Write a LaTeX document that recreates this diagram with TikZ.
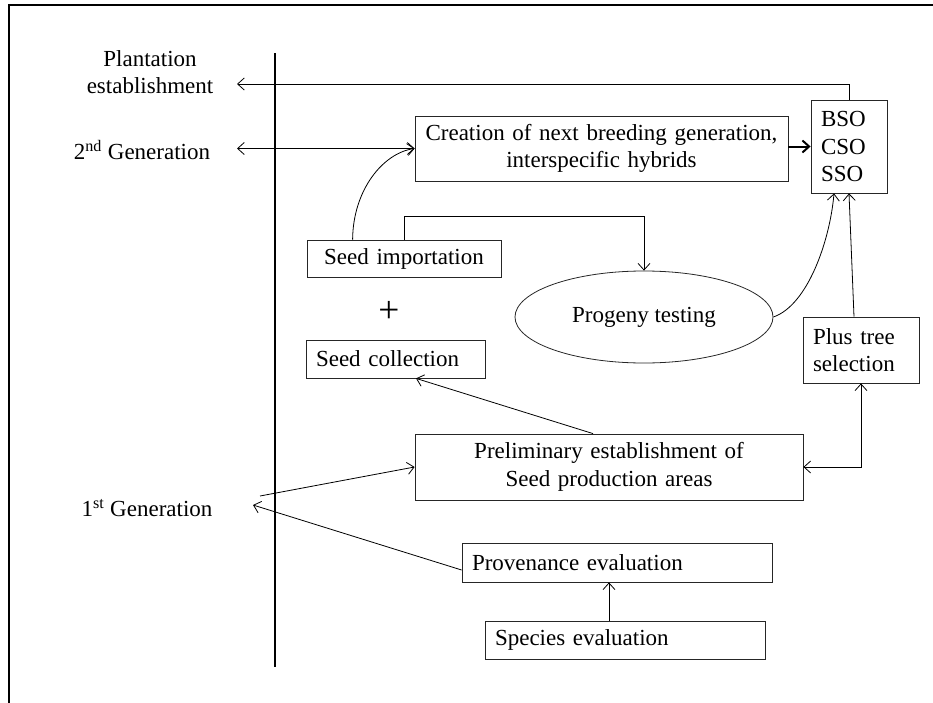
\documentclass[tikz,border=0pt]{standalone}
\usepackage{fontspec}
\setmainfont{Liberation Serif}
\usetikzlibrary{arrows.meta,calc,shapes.geometric}
\begin{document}
\begin{tikzpicture}[x=0.75pt,y=-0.75pt,
  font=\fontsize{17.25}{20.6}\selectfont,
  box/.style={draw=black!85, line width=0.6pt, rectangle, inner xsep=7.5pt, inner ysep=0pt},
  lbox/.style={box, align=left},
  cbox/.style={box, align=center},
  arr/.style={line width=0.6pt, -{Straight Barb[length=5pt,width=9pt]}},
  darr/.style={line width=0.6pt, {Straight Barb[length=5pt,width=9pt]}-{Straight Barb[length=5pt,width=9pt]}},
  thickarr/.style={line width=1.5pt, -{Straight Barb[length=5pt,width=9pt]}},
  lbl/.style={inner sep=0pt, align=center}
]
\useasboundingbox (0,0) rectangle (933,703);
% frame and axis
\draw[line width=2pt] (9,705) -- (9,5) -- (935,5);
\draw[line width=1.3pt] (275,53) -- (275,667);

% labels
\node[lbl] (plant) at (150,72) {Plantation\\establishment};
\node[lbl] (gen2) at (142,150) {2\textsuperscript{nd} Generation};
\node[lbl] (gen1) at (147,508) {1\textsuperscript{st} Generation};
\node[lbl] (plussign) at (389,312) {\fontsize{28}{28}\selectfont +};

% boxes
\node[cbox, text width=264.75pt, minimum height=48.75pt] (creation) at (601.5,148.5)
  {Creation of next breeding generation,\\interspecific hybrids};
\node[lbox, text width=42pt, minimum height=69.75pt] (bso) at (849,146.5) {BSO\\CSO\\SSO};
\node[cbox, text width=130.5pt, minimum height=27.75pt] (imp) at (404,258.5) {Seed importation};
\node[lbox, text width=119.25pt, minimum height=28.5pt] (scol) at (395.5,359) {Seed collection};
\node[draw=black!85, line width=0.6pt, ellipse, inner sep=0pt, minimum width=193.5pt, minimum height=69pt] (prog) at (644,317) {Progeny testing};
\node[lbox, text width=72pt, minimum height=49.5pt] (ptree) at (861,350) {Plus tree\\selection};
\node[cbox, text width=276pt, minimum height=49.5pt] (prel) at (609,467) {Preliminary establishment of\\Seed production areas};
\node[lbox, text width=217.5pt, minimum height=29.25pt] (prov) at (617,562.5) {Provenance evaluation};
\node[lbox, text width=195pt, minimum height=28.5pt] (spec) at (625,640) {Species evaluation};

% connectors
\coordinate (pe) at (237,84);
\draw[arr] (bso.north) |- (pe);
\coordinate (g2e) at (237,148.5);
\draw[darr] (g2e) -- (creation.west);
\draw[thickarr] (creation.east |- bso.west) -- (bso.west);
\draw[arr] ($(imp.north west)+(46,0)$) .. controls (353,190) and (383,153) .. (creation.west);
\draw[arr] (imp.north) -- ++(0,-23) -| (prog.north);
\draw[arr] (prog.east) .. controls (808,305) and (830,240) .. ($(bso.south)+(-15,0)$);
\draw[arr] ($(ptree.north)+(-7,0)$) -- (bso.south);
\draw[darr] (ptree.south) |- (prel.east);
\draw[arr] ($(prel.north)+(-16,0)$) -- ($(scol.south)+(20.5,0)$);
\coordinate (g1a) at (260,496);
\coordinate (g1b) at (253,505);
\draw[arr] (g1a) -- (prel.west);
\draw[arr] ($(prov.west)+(0,7.5)$) -- (g1b);
\draw[arr] ($(spec.north)+(-16,0)$) -- ($(prov.south)+(-8,0)$);
\end{tikzpicture}
\end{document}
